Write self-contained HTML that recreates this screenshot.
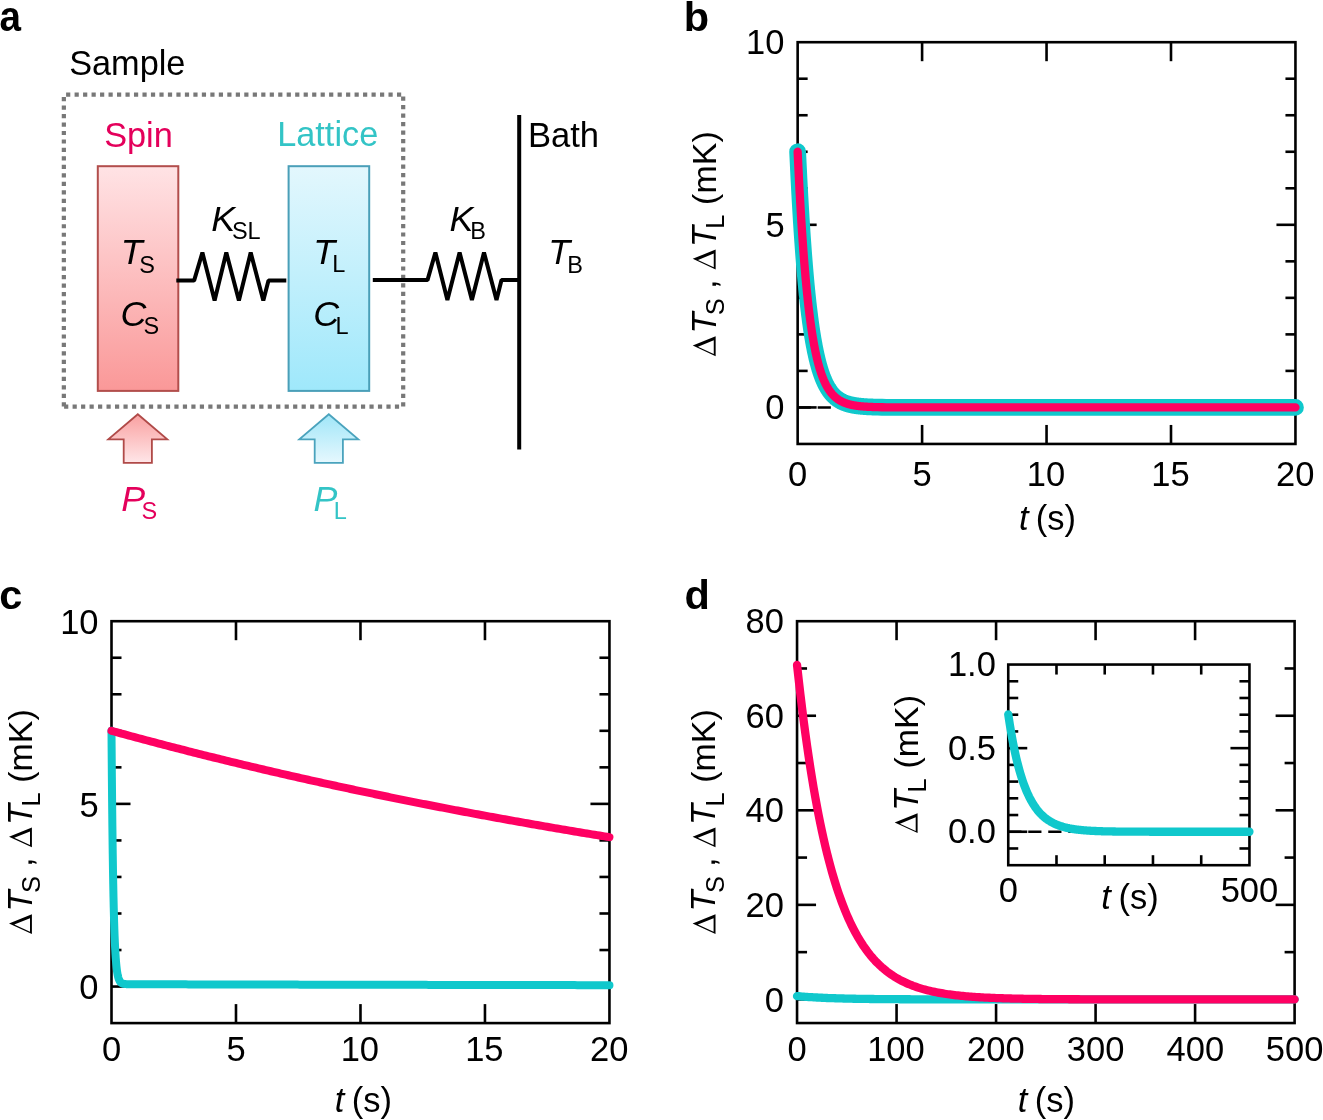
<!DOCTYPE html>
<html><head><meta charset="utf-8"><style>html,body{margin:0;padding:0;background:#fff;}svg{display:block;will-change:transform;}text{font-family:"Liberation Sans",sans-serif;}</style></head>
<body><svg width="1323" height="1120" viewBox="0 0 1323 1120" font-family="Liberation Sans, sans-serif">
<rect width="1323" height="1120" fill="#fff"/>
<text transform="translate(-0.42,30.7) scale(0.93,1.045)" font-size="41.5" font-weight="bold">a</text>
<text x="69.14" y="74.60" font-size="34.3" fill="#000" >Sample</text>
<path fill="#787878" d="M66.10,92.45h4.2v4.2h-4.2zM74.58,92.45h4.2v4.2h-4.2zM83.07,92.45h4.2v4.2h-4.2zM91.55,92.45h4.2v4.2h-4.2zM100.04,92.45h4.2v4.2h-4.2zM108.52,92.45h4.2v4.2h-4.2zM117.00,92.45h4.2v4.2h-4.2zM125.49,92.45h4.2v4.2h-4.2zM133.97,92.45h4.2v4.2h-4.2zM142.46,92.45h4.2v4.2h-4.2zM150.94,92.45h4.2v4.2h-4.2zM159.42,92.45h4.2v4.2h-4.2zM167.91,92.45h4.2v4.2h-4.2zM176.39,92.45h4.2v4.2h-4.2zM184.88,92.45h4.2v4.2h-4.2zM193.36,92.45h4.2v4.2h-4.2zM201.84,92.45h4.2v4.2h-4.2zM210.33,92.45h4.2v4.2h-4.2zM218.81,92.45h4.2v4.2h-4.2zM227.30,92.45h4.2v4.2h-4.2zM235.78,92.45h4.2v4.2h-4.2zM244.26,92.45h4.2v4.2h-4.2zM252.75,92.45h4.2v4.2h-4.2zM261.23,92.45h4.2v4.2h-4.2zM269.72,92.45h4.2v4.2h-4.2zM278.20,92.45h4.2v4.2h-4.2zM286.68,92.45h4.2v4.2h-4.2zM295.17,92.45h4.2v4.2h-4.2zM303.65,92.45h4.2v4.2h-4.2zM312.14,92.45h4.2v4.2h-4.2zM320.62,92.45h4.2v4.2h-4.2zM329.10,92.45h4.2v4.2h-4.2zM337.59,92.45h4.2v4.2h-4.2zM346.07,92.45h4.2v4.2h-4.2zM354.56,92.45h4.2v4.2h-4.2zM363.04,92.45h4.2v4.2h-4.2zM371.52,92.45h4.2v4.2h-4.2zM380.01,92.45h4.2v4.2h-4.2zM388.49,92.45h4.2v4.2h-4.2zM396.98,92.45h4.2v4.2h-4.2zM64.10,404.45h4.2v4.2h-4.2zM72.58,404.45h4.2v4.2h-4.2zM81.06,404.45h4.2v4.2h-4.2zM89.55,404.45h4.2v4.2h-4.2zM98.03,404.45h4.2v4.2h-4.2zM106.51,404.45h4.2v4.2h-4.2zM114.99,404.45h4.2v4.2h-4.2zM123.47,404.45h4.2v4.2h-4.2zM131.96,404.45h4.2v4.2h-4.2zM140.44,404.45h4.2v4.2h-4.2zM148.92,404.45h4.2v4.2h-4.2zM157.40,404.45h4.2v4.2h-4.2zM165.88,404.45h4.2v4.2h-4.2zM174.37,404.45h4.2v4.2h-4.2zM182.85,404.45h4.2v4.2h-4.2zM191.33,404.45h4.2v4.2h-4.2zM199.81,404.45h4.2v4.2h-4.2zM208.29,404.45h4.2v4.2h-4.2zM216.78,404.45h4.2v4.2h-4.2zM225.26,404.45h4.2v4.2h-4.2zM233.74,404.45h4.2v4.2h-4.2zM242.22,404.45h4.2v4.2h-4.2zM250.70,404.45h4.2v4.2h-4.2zM259.19,404.45h4.2v4.2h-4.2zM267.67,404.45h4.2v4.2h-4.2zM276.15,404.45h4.2v4.2h-4.2zM284.63,404.45h4.2v4.2h-4.2zM293.11,404.45h4.2v4.2h-4.2zM301.60,404.45h4.2v4.2h-4.2zM310.08,404.45h4.2v4.2h-4.2zM318.56,404.45h4.2v4.2h-4.2zM327.04,404.45h4.2v4.2h-4.2zM335.52,404.45h4.2v4.2h-4.2zM344.01,404.45h4.2v4.2h-4.2zM352.49,404.45h4.2v4.2h-4.2zM360.97,404.45h4.2v4.2h-4.2zM369.45,404.45h4.2v4.2h-4.2zM377.93,404.45h4.2v4.2h-4.2zM386.42,404.45h4.2v4.2h-4.2zM394.90,404.45h4.2v4.2h-4.2zM61.75,97.00h4.2v4.2h-4.2zM61.75,105.48h4.2v4.2h-4.2zM61.75,113.96h4.2v4.2h-4.2zM61.75,122.43h4.2v4.2h-4.2zM61.75,130.91h4.2v4.2h-4.2zM61.75,139.39h4.2v4.2h-4.2zM61.75,147.87h4.2v4.2h-4.2zM61.75,156.35h4.2v4.2h-4.2zM61.75,164.82h4.2v4.2h-4.2zM61.75,173.30h4.2v4.2h-4.2zM61.75,181.78h4.2v4.2h-4.2zM61.75,190.26h4.2v4.2h-4.2zM61.75,198.74h4.2v4.2h-4.2zM61.75,207.21h4.2v4.2h-4.2zM61.75,215.69h4.2v4.2h-4.2zM61.75,224.17h4.2v4.2h-4.2zM61.75,232.65h4.2v4.2h-4.2zM61.75,241.13h4.2v4.2h-4.2zM61.75,249.60h4.2v4.2h-4.2zM61.75,258.08h4.2v4.2h-4.2zM61.75,266.56h4.2v4.2h-4.2zM61.75,275.04h4.2v4.2h-4.2zM61.75,283.52h4.2v4.2h-4.2zM61.75,291.99h4.2v4.2h-4.2zM61.75,300.47h4.2v4.2h-4.2zM61.75,308.95h4.2v4.2h-4.2zM61.75,317.43h4.2v4.2h-4.2zM61.75,325.91h4.2v4.2h-4.2zM61.75,334.38h4.2v4.2h-4.2zM61.75,342.86h4.2v4.2h-4.2zM61.75,351.34h4.2v4.2h-4.2zM61.75,359.82h4.2v4.2h-4.2zM61.75,368.30h4.2v4.2h-4.2zM61.75,376.77h4.2v4.2h-4.2zM61.75,385.25h4.2v4.2h-4.2zM61.75,393.73h4.2v4.2h-4.2zM61.75,402.21h4.2v4.2h-4.2zM401.10,96.60h4.2v4.2h-4.2zM401.10,105.09h4.2v4.2h-4.2zM401.10,113.58h4.2v4.2h-4.2zM401.10,122.07h4.2v4.2h-4.2zM401.10,130.56h4.2v4.2h-4.2zM401.10,139.05h4.2v4.2h-4.2zM401.10,147.53h4.2v4.2h-4.2zM401.10,156.02h4.2v4.2h-4.2zM401.10,164.51h4.2v4.2h-4.2zM401.10,173.00h4.2v4.2h-4.2zM401.10,181.49h4.2v4.2h-4.2zM401.10,189.98h4.2v4.2h-4.2zM401.10,198.47h4.2v4.2h-4.2zM401.10,206.96h4.2v4.2h-4.2zM401.10,215.45h4.2v4.2h-4.2zM401.10,223.94h4.2v4.2h-4.2zM401.10,232.42h4.2v4.2h-4.2zM401.10,240.91h4.2v4.2h-4.2zM401.10,249.40h4.2v4.2h-4.2zM401.10,257.89h4.2v4.2h-4.2zM401.10,266.38h4.2v4.2h-4.2zM401.10,274.87h4.2v4.2h-4.2zM401.10,283.36h4.2v4.2h-4.2zM401.10,291.85h4.2v4.2h-4.2zM401.10,300.34h4.2v4.2h-4.2zM401.10,308.83h4.2v4.2h-4.2zM401.10,317.31h4.2v4.2h-4.2zM401.10,325.80h4.2v4.2h-4.2zM401.10,334.29h4.2v4.2h-4.2zM401.10,342.78h4.2v4.2h-4.2zM401.10,351.27h4.2v4.2h-4.2zM401.10,359.76h4.2v4.2h-4.2zM401.10,368.25h4.2v4.2h-4.2zM401.10,376.74h4.2v4.2h-4.2zM401.10,385.23h4.2v4.2h-4.2zM401.10,393.72h4.2v4.2h-4.2zM401.10,402.20h4.2v4.2h-4.2z"/>
<defs>
<linearGradient id="gp" x1="0" y1="0" x2="0" y2="1"><stop offset="0" stop-color="#ffe3e5"/><stop offset="1" stop-color="#fa9898"/></linearGradient>
<linearGradient id="gc" x1="0" y1="0" x2="0" y2="1"><stop offset="0" stop-color="#e3f7fd"/><stop offset="1" stop-color="#9fe8fb"/></linearGradient>
<linearGradient id="gpa" x1="0" y1="0" x2="0" y2="1"><stop offset="0" stop-color="#f9a0a0"/><stop offset="1" stop-color="#ffe6e8"/></linearGradient>
<linearGradient id="gca" x1="0" y1="0" x2="0" y2="1"><stop offset="0" stop-color="#a0e6f8"/><stop offset="1" stop-color="#e6f8fe"/></linearGradient>
</defs>
<rect x="97.8" y="166.2" width="80.5" height="224.7" fill="url(#gp)" stroke="#b24e4c" stroke-width="2.0"/>
<rect x="288.6" y="166.2" width="80.6" height="224.7" fill="url(#gc)" stroke="#4a9fb8" stroke-width="2.0"/>
<text x="104.14" y="146.60" font-size="34.3" fill="#e4005b" >Spin</text>
<text x="277.19" y="146.30" font-size="34.3" fill="#33c4c6" >Lattice</text>
<text x="527.96" y="146.80" font-size="34.6" fill="#000" >Bath</text>
<path d="M176.30,280.60 L194.10,280.60 L202.40,252.60 L214.60,300.40 L226.30,252.60 L238.90,300.40 L250.70,252.60 L263.30,300.40 L268.50,280.60 L286.30,280.60" fill="none" stroke="#000" stroke-width="4.0" stroke-linecap="butt" stroke-linejoin="bevel"/>
<path d="M372.80,280.10 L427.50,280.10 L435.40,252.50 L447.40,299.90 L459.60,252.50 L471.90,299.90 L484.00,252.50 L496.50,299.90 L501.50,280.10 L519.00,280.10" fill="none" stroke="#000" stroke-width="4.0" stroke-linecap="butt" stroke-linejoin="bevel"/>
<line x1="519.20" y1="115.00" x2="519.20" y2="449.50" stroke="#000" stroke-width="4.0" />
<text x="120.68" y="264.10" font-size="35.8" font-style="italic" fill="#000" >T</text>
<text x="139.23" y="272.70" font-size="23.5" fill="#000" >S</text>
<text x="120.52" y="326.20" font-size="35.8" font-style="italic" fill="#000" >C</text>
<text x="143.43" y="333.70" font-size="23.5" fill="#000" >S</text>
<text x="313.18" y="264.40" font-size="35.8" font-style="italic" fill="#000" >T</text>
<text x="332.37" y="272.00" font-size="23.5" fill="#000" >L</text>
<text x="313.32" y="326.00" font-size="35.8" font-style="italic" fill="#000" >C</text>
<text x="335.47" y="333.60" font-size="23.5" fill="#000" >L</text>
<text x="211.30" y="230.90" font-size="35.8" font-style="italic" fill="#000" >K</text>
<text x="231.93" y="239.00" font-size="23.5" fill="#000" >SL</text>
<text x="449.40" y="230.70" font-size="35.8" font-style="italic" fill="#000" >K</text>
<text x="470.17" y="238.60" font-size="23.5" fill="#000" >B</text>
<text x="548.28" y="264.00" font-size="35.8" font-style="italic" fill="#000" >T</text>
<text x="567.37" y="272.50" font-size="23.5" fill="#000" >B</text>
<path d="M137.80,414.30 L167.30,439.40 L151.90,439.40 L151.90,462.90 L123.70,462.90 L123.70,439.40 L108.30,439.40 Z" fill="url(#gpa)" stroke="#b04a48" stroke-width="1.8" stroke-linejoin="miter"/>
<path d="M328.80,414.30 L358.30,439.40 L342.90,439.40 L342.90,462.90 L314.70,462.90 L314.70,439.40 L299.30,439.40 Z" fill="url(#gca)" stroke="#4aa3bd" stroke-width="1.8" stroke-linejoin="miter"/>
<text x="121.30" y="511.20" font-size="35.8" font-style="italic" fill="#e4005b" >P</text>
<text x="141.53" y="519.20" font-size="23.5" fill="#e4005b" >S</text>
<text x="313.60" y="511.20" font-size="35.8" font-style="italic" fill="#33c4c6" >P</text>
<text x="333.67" y="519.20" font-size="23.5" fill="#33c4c6" >L</text>
<text x="683.66" y="30.60" font-size="41.5" font-weight="bold" fill="#000" >b</text>
<line x1="922.10" y1="443.95" x2="922.10" y2="424.95" stroke="#000" stroke-width="2.6" />
<line x1="922.10" y1="42.20" x2="922.10" y2="61.20" stroke="#000" stroke-width="2.6" />
<line x1="1046.55" y1="443.95" x2="1046.55" y2="424.95" stroke="#000" stroke-width="2.6" />
<line x1="1046.55" y1="42.20" x2="1046.55" y2="61.20" stroke="#000" stroke-width="2.6" />
<line x1="1171.00" y1="443.95" x2="1171.00" y2="424.95" stroke="#000" stroke-width="2.6" />
<line x1="1171.00" y1="42.20" x2="1171.00" y2="61.20" stroke="#000" stroke-width="2.6" />
<line x1="797.65" y1="407.43" x2="816.65" y2="407.43" stroke="#000" stroke-width="2.6" />
<line x1="1295.45" y1="407.43" x2="1276.45" y2="407.43" stroke="#000" stroke-width="2.6" />
<line x1="797.65" y1="224.81" x2="816.65" y2="224.81" stroke="#000" stroke-width="2.6" />
<line x1="1295.45" y1="224.81" x2="1276.45" y2="224.81" stroke="#000" stroke-width="2.6" />
<line x1="797.65" y1="370.90" x2="807.65" y2="370.90" stroke="#000" stroke-width="2.6" />
<line x1="1295.45" y1="370.90" x2="1285.45" y2="370.90" stroke="#000" stroke-width="2.6" />
<line x1="797.65" y1="334.38" x2="807.65" y2="334.38" stroke="#000" stroke-width="2.6" />
<line x1="1295.45" y1="334.38" x2="1285.45" y2="334.38" stroke="#000" stroke-width="2.6" />
<line x1="797.65" y1="297.86" x2="807.65" y2="297.86" stroke="#000" stroke-width="2.6" />
<line x1="1295.45" y1="297.86" x2="1285.45" y2="297.86" stroke="#000" stroke-width="2.6" />
<line x1="797.65" y1="261.34" x2="807.65" y2="261.34" stroke="#000" stroke-width="2.6" />
<line x1="1295.45" y1="261.34" x2="1285.45" y2="261.34" stroke="#000" stroke-width="2.6" />
<line x1="797.65" y1="188.29" x2="807.65" y2="188.29" stroke="#000" stroke-width="2.6" />
<line x1="1295.45" y1="188.29" x2="1285.45" y2="188.29" stroke="#000" stroke-width="2.6" />
<line x1="797.65" y1="151.77" x2="807.65" y2="151.77" stroke="#000" stroke-width="2.6" />
<line x1="1295.45" y1="151.77" x2="1285.45" y2="151.77" stroke="#000" stroke-width="2.6" />
<line x1="797.65" y1="115.25" x2="807.65" y2="115.25" stroke="#000" stroke-width="2.6" />
<line x1="1295.45" y1="115.25" x2="1285.45" y2="115.25" stroke="#000" stroke-width="2.6" />
<line x1="797.65" y1="78.72" x2="807.65" y2="78.72" stroke="#000" stroke-width="2.6" />
<line x1="1295.45" y1="78.72" x2="1285.45" y2="78.72" stroke="#000" stroke-width="2.6" />
<rect x="797.65" y="42.2" width="497.80" height="401.75" fill="none" stroke="#000" stroke-width="2.6"/>
<line x1="797.65" y1="407.43" x2="1295.45" y2="407.43" stroke="#000" stroke-width="2.6" stroke-dasharray="13.2 6.8"/>
<path d="M797.65,151.77 L797.90,157.15 L798.15,162.42 L798.40,167.58 L798.65,172.63 L798.89,177.57 L799.14,182.41 L799.39,187.15 L799.64,191.78 L799.89,196.32 L800.14,200.77 L800.39,205.12 L800.64,209.38 L800.89,213.55 L801.13,217.63 L801.38,221.62 L801.63,225.53 L801.88,229.36 L802.13,233.11 L802.38,236.78 L802.63,240.37 L802.88,243.89 L803.13,247.33 L803.37,250.70 L803.62,254.00 L803.87,257.23 L804.12,260.39 L804.37,263.49 L804.62,266.52 L804.87,269.49 L805.12,272.39 L805.37,275.23 L805.61,278.02 L805.86,280.74 L806.11,283.41 L806.36,286.02 L806.61,288.57 L806.86,291.08 L807.11,293.53 L807.36,295.92 L807.61,298.27 L807.85,300.57 L808.10,302.82 L808.35,305.02 L808.60,307.18 L808.85,309.29 L809.10,311.35 L809.35,313.38 L809.60,315.36 L809.85,317.29 L810.10,319.19 L810.34,321.05 L810.59,322.87 L810.84,324.65 L811.09,326.39 L811.34,328.10 L811.59,329.77 L811.84,331.40 L812.09,333.00 L812.34,334.57 L812.58,336.10 L812.83,337.60 L813.08,339.07 L813.33,340.51 L813.58,341.92 L813.83,343.30 L814.08,344.65 L814.33,345.97 L814.58,347.27 L814.82,348.53 L815.07,349.77 L815.32,350.99 L815.57,352.17 L815.82,353.34 L816.07,354.48 L816.32,355.59 L816.57,356.68 L816.82,357.75 L817.06,358.80 L817.31,359.82 L817.56,360.82 L817.81,361.80 L818.06,362.76 L818.31,363.70 L818.56,364.62 L818.81,365.53 L819.06,366.41 L819.30,367.27 L819.55,368.12 L819.80,368.94 L820.05,369.75 L820.30,370.55 L820.55,371.32 L820.80,372.08 L821.05,372.83 L821.30,373.56 L821.54,374.27 L821.79,374.97 L822.04,375.65 L822.29,376.32 L822.54,376.97 L822.79,377.62 L823.04,378.24 L823.29,378.86 L823.54,379.46 L823.78,380.05 L824.03,380.62 L824.28,381.19 L824.53,381.74 L824.78,382.28 L825.03,382.81 L825.28,383.33 L825.53,383.84 L825.78,384.33 L826.02,384.82 L826.27,385.30 L826.52,385.76 L826.77,386.22 L827.02,386.66 L827.27,387.10 L827.52,387.53 L827.77,387.95 L828.02,388.36 L828.26,388.76 L828.51,389.15 L828.76,389.54 L829.01,389.91 L829.26,390.28 L829.51,390.64 L829.76,391.00 L830.01,391.34 L830.26,391.68 L830.50,392.01 L830.75,392.34 L831.00,392.65 L831.25,392.97 L831.50,393.27 L831.75,393.57 L832.00,393.86 L832.25,394.15 L832.50,394.43 L832.74,394.70 L832.99,394.97 L833.24,395.23 L833.49,395.49 L833.74,395.74 L833.99,395.98 L834.24,396.22 L834.49,396.46 L834.74,396.69 L834.99,396.92 L835.23,397.14 L835.48,397.35 L835.73,397.57 L835.98,397.77 L836.23,397.98 L836.48,398.18 L836.73,398.37 L836.98,398.56 L837.23,398.75 L837.47,398.93 L837.72,399.11 L837.97,399.29 L838.22,399.46 L838.47,399.62 L838.72,399.79 L838.97,399.95 L839.22,400.11 L839.47,400.26 L839.71,400.41 L839.96,400.56 L840.21,400.70 L840.46,400.85 L840.71,400.98 L840.96,401.12 L841.21,401.25 L841.46,401.38 L841.71,401.51 L841.95,401.63 L842.20,401.76 L842.45,401.88 L842.70,401.99 L842.95,402.11 L843.20,402.22 L843.45,402.33 L843.70,402.44 L843.95,402.54 L844.19,402.64 L844.44,402.74 L844.69,402.84 L844.94,402.94 L845.19,403.03 L845.44,403.13 L845.69,403.22 L845.94,403.31 L846.19,403.39 L846.43,403.48 L846.68,403.56 L846.93,403.64 L847.18,403.72 L847.43,403.80 L847.68,403.88 L847.93,403.95 L848.18,404.02 L848.43,404.10 L848.67,404.17 L848.92,404.23 L849.17,404.30 L849.42,404.37 L849.67,404.43 L849.92,404.50 L850.17,404.56 L850.42,404.62 L850.67,404.68 L850.91,404.73 L851.16,404.79 L851.41,404.85 L851.66,404.90 L851.91,404.95 L852.16,405.01 L852.41,405.06 L852.66,405.11 L852.91,405.16 L853.15,405.20 L853.40,405.25 L853.65,405.30 L853.90,405.34 L854.15,405.39 L854.40,405.43 L854.65,405.47 L854.90,405.51 L855.15,405.55 L855.39,405.59 L855.64,405.63 L855.89,405.67 L856.14,405.70 L856.39,405.74 L856.64,405.78 L856.89,405.81 L857.14,405.85 L857.39,405.88 L857.63,405.91 L857.88,405.94 L858.13,405.97 L858.38,406.00 L858.63,406.03 L858.88,406.06 L859.13,406.09 L859.38,406.12 L859.63,406.15 L859.88,406.18 L860.12,406.20 L860.37,406.23 L860.62,406.25 L860.87,406.28 L861.12,406.30 L861.37,406.33 L861.62,406.35 L861.87,406.37 L862.12,406.39 L862.36,406.42 L862.61,406.44 L862.86,406.46 L863.11,406.48 L863.36,406.50 L863.61,406.52 L863.86,406.54 L864.11,406.56 L864.36,406.57 L864.60,406.59 L864.85,406.61 L865.10,406.63 L865.35,406.64 L865.60,406.66 L865.85,406.68 L866.10,406.69 L866.35,406.71 L866.60,406.72 L866.84,406.74 L867.09,406.75 L867.34,406.77 L867.59,406.78 L867.84,406.79 L868.09,406.81 L868.34,406.82 L868.59,406.83 L868.84,406.85 L869.08,406.86 L869.33,406.87 L869.58,406.88 L869.83,406.89 L870.08,406.90 L870.33,406.92 L870.58,406.93 L870.83,406.94 L871.08,406.95 L871.32,406.96 L871.57,406.97 L871.82,406.98 L872.07,406.99 L872.32,407.00 L873.56,407.04 L877.78,407.16 L882.00,407.24 L886.22,407.30 L890.44,407.34 L894.66,407.36 L898.88,407.38 L903.10,407.40 L907.32,407.41 L911.53,407.41 L915.75,407.42 L919.97,407.42 L924.19,407.42 L928.41,407.42 L932.63,407.42 L936.85,407.43 L941.07,407.43 L945.29,407.43 L949.50,407.43 L953.72,407.43 L957.94,407.43 L962.16,407.43 L966.38,407.43 L970.60,407.43 L974.82,407.43 L979.04,407.43 L983.25,407.43 L987.47,407.43 L991.69,407.43 L995.91,407.43 L1000.13,407.43 L1004.35,407.43 L1008.57,407.43 L1012.79,407.43 L1017.01,407.43 L1021.22,407.43 L1025.44,407.43 L1029.66,407.43 L1033.88,407.43 L1038.10,407.43 L1042.32,407.43 L1046.54,407.43 L1050.76,407.43 L1054.98,407.43 L1059.19,407.43 L1063.41,407.43 L1067.63,407.43 L1071.85,407.43 L1076.07,407.43 L1080.29,407.43 L1084.51,407.43 L1088.73,407.43 L1092.94,407.43 L1097.16,407.43 L1101.38,407.43 L1105.60,407.43 L1109.82,407.43 L1114.04,407.43 L1118.26,407.43 L1122.48,407.43 L1126.70,407.43 L1130.91,407.43 L1135.13,407.43 L1139.35,407.43 L1143.57,407.43 L1147.79,407.43 L1152.01,407.43 L1156.23,407.43 L1160.45,407.43 L1164.67,407.43 L1168.88,407.43 L1173.10,407.43 L1177.32,407.43 L1181.54,407.43 L1185.76,407.43 L1189.98,407.43 L1194.20,407.43 L1198.42,407.43 L1202.64,407.43 L1206.85,407.43 L1211.07,407.43 L1215.29,407.43 L1219.51,407.43 L1223.73,407.43 L1227.95,407.43 L1232.17,407.43 L1236.39,407.43 L1240.60,407.43 L1244.82,407.43 L1249.04,407.43 L1253.26,407.43 L1257.48,407.43 L1261.70,407.43 L1265.92,407.43 L1270.14,407.43 L1274.36,407.43 L1278.57,407.43 L1282.79,407.43 L1287.01,407.43 L1291.23,407.43 L1295.45,407.43" fill="none" stroke="#10c8cc" stroke-width="16.8" stroke-linecap="round" stroke-linejoin="round"/>
<path d="M797.65,151.77 L797.90,157.15 L798.15,162.42 L798.40,167.58 L798.65,172.63 L798.89,177.57 L799.14,182.41 L799.39,187.15 L799.64,191.78 L799.89,196.32 L800.14,200.77 L800.39,205.12 L800.64,209.38 L800.89,213.55 L801.13,217.63 L801.38,221.62 L801.63,225.53 L801.88,229.36 L802.13,233.11 L802.38,236.78 L802.63,240.37 L802.88,243.89 L803.13,247.33 L803.37,250.70 L803.62,254.00 L803.87,257.23 L804.12,260.39 L804.37,263.49 L804.62,266.52 L804.87,269.49 L805.12,272.39 L805.37,275.23 L805.61,278.02 L805.86,280.74 L806.11,283.41 L806.36,286.02 L806.61,288.57 L806.86,291.08 L807.11,293.53 L807.36,295.92 L807.61,298.27 L807.85,300.57 L808.10,302.82 L808.35,305.02 L808.60,307.18 L808.85,309.29 L809.10,311.35 L809.35,313.38 L809.60,315.36 L809.85,317.29 L810.10,319.19 L810.34,321.05 L810.59,322.87 L810.84,324.65 L811.09,326.39 L811.34,328.10 L811.59,329.77 L811.84,331.40 L812.09,333.00 L812.34,334.57 L812.58,336.10 L812.83,337.60 L813.08,339.07 L813.33,340.51 L813.58,341.92 L813.83,343.30 L814.08,344.65 L814.33,345.97 L814.58,347.27 L814.82,348.53 L815.07,349.77 L815.32,350.99 L815.57,352.17 L815.82,353.34 L816.07,354.48 L816.32,355.59 L816.57,356.68 L816.82,357.75 L817.06,358.80 L817.31,359.82 L817.56,360.82 L817.81,361.80 L818.06,362.76 L818.31,363.70 L818.56,364.62 L818.81,365.53 L819.06,366.41 L819.30,367.27 L819.55,368.12 L819.80,368.94 L820.05,369.75 L820.30,370.55 L820.55,371.32 L820.80,372.08 L821.05,372.83 L821.30,373.56 L821.54,374.27 L821.79,374.97 L822.04,375.65 L822.29,376.32 L822.54,376.97 L822.79,377.62 L823.04,378.24 L823.29,378.86 L823.54,379.46 L823.78,380.05 L824.03,380.62 L824.28,381.19 L824.53,381.74 L824.78,382.28 L825.03,382.81 L825.28,383.33 L825.53,383.84 L825.78,384.33 L826.02,384.82 L826.27,385.30 L826.52,385.76 L826.77,386.22 L827.02,386.66 L827.27,387.10 L827.52,387.53 L827.77,387.95 L828.02,388.36 L828.26,388.76 L828.51,389.15 L828.76,389.54 L829.01,389.91 L829.26,390.28 L829.51,390.64 L829.76,391.00 L830.01,391.34 L830.26,391.68 L830.50,392.01 L830.75,392.34 L831.00,392.65 L831.25,392.97 L831.50,393.27 L831.75,393.57 L832.00,393.86 L832.25,394.15 L832.50,394.43 L832.74,394.70 L832.99,394.97 L833.24,395.23 L833.49,395.49 L833.74,395.74 L833.99,395.98 L834.24,396.22 L834.49,396.46 L834.74,396.69 L834.99,396.92 L835.23,397.14 L835.48,397.35 L835.73,397.57 L835.98,397.77 L836.23,397.98 L836.48,398.18 L836.73,398.37 L836.98,398.56 L837.23,398.75 L837.47,398.93 L837.72,399.11 L837.97,399.29 L838.22,399.46 L838.47,399.62 L838.72,399.79 L838.97,399.95 L839.22,400.11 L839.47,400.26 L839.71,400.41 L839.96,400.56 L840.21,400.70 L840.46,400.85 L840.71,400.98 L840.96,401.12 L841.21,401.25 L841.46,401.38 L841.71,401.51 L841.95,401.63 L842.20,401.76 L842.45,401.88 L842.70,401.99 L842.95,402.11 L843.20,402.22 L843.45,402.33 L843.70,402.44 L843.95,402.54 L844.19,402.64 L844.44,402.74 L844.69,402.84 L844.94,402.94 L845.19,403.03 L845.44,403.13 L845.69,403.22 L845.94,403.31 L846.19,403.39 L846.43,403.48 L846.68,403.56 L846.93,403.64 L847.18,403.72 L847.43,403.80 L847.68,403.88 L847.93,403.95 L848.18,404.02 L848.43,404.10 L848.67,404.17 L848.92,404.23 L849.17,404.30 L849.42,404.37 L849.67,404.43 L849.92,404.50 L850.17,404.56 L850.42,404.62 L850.67,404.68 L850.91,404.73 L851.16,404.79 L851.41,404.85 L851.66,404.90 L851.91,404.95 L852.16,405.01 L852.41,405.06 L852.66,405.11 L852.91,405.16 L853.15,405.20 L853.40,405.25 L853.65,405.30 L853.90,405.34 L854.15,405.39 L854.40,405.43 L854.65,405.47 L854.90,405.51 L855.15,405.55 L855.39,405.59 L855.64,405.63 L855.89,405.67 L856.14,405.70 L856.39,405.74 L856.64,405.78 L856.89,405.81 L857.14,405.85 L857.39,405.88 L857.63,405.91 L857.88,405.94 L858.13,405.97 L858.38,406.00 L858.63,406.03 L858.88,406.06 L859.13,406.09 L859.38,406.12 L859.63,406.15 L859.88,406.18 L860.12,406.20 L860.37,406.23 L860.62,406.25 L860.87,406.28 L861.12,406.30 L861.37,406.33 L861.62,406.35 L861.87,406.37 L862.12,406.39 L862.36,406.42 L862.61,406.44 L862.86,406.46 L863.11,406.48 L863.36,406.50 L863.61,406.52 L863.86,406.54 L864.11,406.56 L864.36,406.57 L864.60,406.59 L864.85,406.61 L865.10,406.63 L865.35,406.64 L865.60,406.66 L865.85,406.68 L866.10,406.69 L866.35,406.71 L866.60,406.72 L866.84,406.74 L867.09,406.75 L867.34,406.77 L867.59,406.78 L867.84,406.79 L868.09,406.81 L868.34,406.82 L868.59,406.83 L868.84,406.85 L869.08,406.86 L869.33,406.87 L869.58,406.88 L869.83,406.89 L870.08,406.90 L870.33,406.92 L870.58,406.93 L870.83,406.94 L871.08,406.95 L871.32,406.96 L871.57,406.97 L871.82,406.98 L872.07,406.99 L872.32,407.00 L873.56,407.04 L877.78,407.16 L882.00,407.24 L886.22,407.30 L890.44,407.34 L894.66,407.36 L898.88,407.38 L903.10,407.40 L907.32,407.41 L911.53,407.41 L915.75,407.42 L919.97,407.42 L924.19,407.42 L928.41,407.42 L932.63,407.42 L936.85,407.43 L941.07,407.43 L945.29,407.43 L949.50,407.43 L953.72,407.43 L957.94,407.43 L962.16,407.43 L966.38,407.43 L970.60,407.43 L974.82,407.43 L979.04,407.43 L983.25,407.43 L987.47,407.43 L991.69,407.43 L995.91,407.43 L1000.13,407.43 L1004.35,407.43 L1008.57,407.43 L1012.79,407.43 L1017.01,407.43 L1021.22,407.43 L1025.44,407.43 L1029.66,407.43 L1033.88,407.43 L1038.10,407.43 L1042.32,407.43 L1046.54,407.43 L1050.76,407.43 L1054.98,407.43 L1059.19,407.43 L1063.41,407.43 L1067.63,407.43 L1071.85,407.43 L1076.07,407.43 L1080.29,407.43 L1084.51,407.43 L1088.73,407.43 L1092.94,407.43 L1097.16,407.43 L1101.38,407.43 L1105.60,407.43 L1109.82,407.43 L1114.04,407.43 L1118.26,407.43 L1122.48,407.43 L1126.70,407.43 L1130.91,407.43 L1135.13,407.43 L1139.35,407.43 L1143.57,407.43 L1147.79,407.43 L1152.01,407.43 L1156.23,407.43 L1160.45,407.43 L1164.67,407.43 L1168.88,407.43 L1173.10,407.43 L1177.32,407.43 L1181.54,407.43 L1185.76,407.43 L1189.98,407.43 L1194.20,407.43 L1198.42,407.43 L1202.64,407.43 L1206.85,407.43 L1211.07,407.43 L1215.29,407.43 L1219.51,407.43 L1223.73,407.43 L1227.95,407.43 L1232.17,407.43 L1236.39,407.43 L1240.60,407.43 L1244.82,407.43 L1249.04,407.43 L1253.26,407.43 L1257.48,407.43 L1261.70,407.43 L1265.92,407.43 L1270.14,407.43 L1274.36,407.43 L1278.57,407.43 L1282.79,407.43 L1287.01,407.43 L1291.23,407.43 L1295.45,407.43" fill="none" stroke="#ff0062" stroke-width="8.3" stroke-linecap="round" stroke-linejoin="round"/>
<text x="-0.72" y="609.20" font-size="41.5" font-weight="bold" fill="#000" >c</text>
<line x1="235.99" y1="1023.10" x2="235.99" y2="1004.10" stroke="#000" stroke-width="2.6" />
<line x1="235.99" y1="621.20" x2="235.99" y2="640.20" stroke="#000" stroke-width="2.6" />
<line x1="360.48" y1="1023.10" x2="360.48" y2="1004.10" stroke="#000" stroke-width="2.6" />
<line x1="360.48" y1="621.20" x2="360.48" y2="640.20" stroke="#000" stroke-width="2.6" />
<line x1="484.96" y1="1023.10" x2="484.96" y2="1004.10" stroke="#000" stroke-width="2.6" />
<line x1="484.96" y1="621.20" x2="484.96" y2="640.20" stroke="#000" stroke-width="2.6" />
<line x1="111.50" y1="986.56" x2="130.50" y2="986.56" stroke="#000" stroke-width="2.6" />
<line x1="609.45" y1="986.56" x2="590.45" y2="986.56" stroke="#000" stroke-width="2.6" />
<line x1="111.50" y1="803.88" x2="130.50" y2="803.88" stroke="#000" stroke-width="2.6" />
<line x1="609.45" y1="803.88" x2="590.45" y2="803.88" stroke="#000" stroke-width="2.6" />
<line x1="111.50" y1="950.03" x2="121.50" y2="950.03" stroke="#000" stroke-width="2.6" />
<line x1="609.45" y1="950.03" x2="599.45" y2="950.03" stroke="#000" stroke-width="2.6" />
<line x1="111.50" y1="913.49" x2="121.50" y2="913.49" stroke="#000" stroke-width="2.6" />
<line x1="609.45" y1="913.49" x2="599.45" y2="913.49" stroke="#000" stroke-width="2.6" />
<line x1="111.50" y1="876.95" x2="121.50" y2="876.95" stroke="#000" stroke-width="2.6" />
<line x1="609.45" y1="876.95" x2="599.45" y2="876.95" stroke="#000" stroke-width="2.6" />
<line x1="111.50" y1="840.42" x2="121.50" y2="840.42" stroke="#000" stroke-width="2.6" />
<line x1="609.45" y1="840.42" x2="599.45" y2="840.42" stroke="#000" stroke-width="2.6" />
<line x1="111.50" y1="767.35" x2="121.50" y2="767.35" stroke="#000" stroke-width="2.6" />
<line x1="609.45" y1="767.35" x2="599.45" y2="767.35" stroke="#000" stroke-width="2.6" />
<line x1="111.50" y1="730.81" x2="121.50" y2="730.81" stroke="#000" stroke-width="2.6" />
<line x1="609.45" y1="730.81" x2="599.45" y2="730.81" stroke="#000" stroke-width="2.6" />
<line x1="111.50" y1="694.27" x2="121.50" y2="694.27" stroke="#000" stroke-width="2.6" />
<line x1="609.45" y1="694.27" x2="599.45" y2="694.27" stroke="#000" stroke-width="2.6" />
<line x1="111.50" y1="657.74" x2="121.50" y2="657.74" stroke="#000" stroke-width="2.6" />
<line x1="609.45" y1="657.74" x2="599.45" y2="657.74" stroke="#000" stroke-width="2.6" />
<rect x="111.5" y="621.2" width="497.95" height="401.90" fill="none" stroke="#000" stroke-width="2.6"/>
<path d="M111.50,730.81 L111.62,747.15 L111.75,762.44 L111.87,776.74 L112.00,790.12 L112.12,802.64 L112.25,814.35 L112.37,825.30 L112.50,835.55 L112.62,845.13 L112.74,854.10 L112.87,862.49 L112.99,870.34 L113.12,877.68 L113.24,884.55 L113.37,890.98 L113.49,896.99 L113.62,902.62 L113.74,907.88 L113.87,912.80 L113.99,917.40 L114.11,921.71 L114.24,925.74 L114.36,929.51 L114.49,933.04 L114.61,936.34 L114.74,939.43 L114.86,942.31 L114.99,945.02 L115.11,947.54 L115.23,949.91 L115.36,952.12 L115.48,954.19 L115.61,956.12 L115.73,957.93 L115.86,959.63 L115.98,961.21 L116.11,962.70 L116.23,964.08 L116.36,965.38 L116.48,966.60 L116.60,967.73 L116.73,968.79 L116.85,969.79 L116.98,970.72 L117.10,971.59 L117.23,972.40 L117.35,973.16 L117.48,973.88 L117.60,974.54 L117.72,975.17 L117.85,975.75 L117.97,976.29 L118.10,976.81 L118.22,977.28 L118.35,977.73 L118.47,978.15 L118.60,978.54 L118.72,978.90 L118.84,979.25 L118.97,979.57 L119.09,979.87 L119.22,980.15 L119.34,980.41 L119.47,980.65 L119.59,980.88 L119.72,981.10 L119.84,981.30 L119.97,981.49 L120.09,981.66 L120.21,981.83 L120.34,981.98 L120.46,982.13 L120.59,982.26 L120.71,982.39 L120.84,982.51 L120.96,982.62 L121.09,982.72 L121.21,982.82 L121.33,982.91 L121.46,982.99 L121.58,983.07 L121.71,983.14 L121.83,983.21 L121.96,983.28 L122.08,983.34 L122.21,983.40 L122.33,983.45 L122.45,983.50 L122.58,983.55 L122.70,983.59 L122.83,983.63 L122.95,983.67 L123.08,983.70 L123.20,983.74 L123.33,983.77 L123.45,983.80 L123.58,983.83 L123.70,983.85 L123.82,983.88 L123.95,983.90 L124.07,983.92 L124.20,983.94 L124.32,983.96 L124.45,983.97 L124.57,983.99 L124.70,984.01 L124.82,984.02 L124.94,984.03 L125.07,984.05 L125.19,984.06 L125.32,984.07 L125.44,984.08 L125.57,984.09 L125.69,984.10 L125.82,984.11 L125.94,984.11 L126.07,984.12 L126.19,984.13 L126.31,984.14 L126.44,984.14 L126.56,984.15 L126.69,984.15 L126.81,984.16 L126.94,984.16 L127.06,984.17 L127.19,984.17 L127.31,984.18 L127.43,984.18 L127.56,984.18 L127.68,984.19 L127.81,984.19 L127.93,984.19 L128.06,984.20 L128.18,984.20 L128.31,984.20 L128.43,984.20 L128.55,984.20 L128.68,984.21 L128.80,984.21 L128.93,984.21 L129.05,984.21 L129.18,984.21 L129.30,984.22 L129.43,984.22 L129.55,984.22 L129.68,984.22 L129.80,984.22 L129.92,984.22 L130.05,984.22 L130.17,984.22 L130.30,984.23 L130.42,984.23 L130.55,984.23 L130.67,984.23 L130.80,984.23 L130.92,984.23 L131.04,984.23 L131.17,984.23 L131.29,984.23 L131.42,984.23 L131.54,984.23 L131.67,984.23 L131.79,984.24 L131.92,984.24 L132.04,984.24 L132.16,984.24 L132.29,984.24 L132.41,984.24 L132.54,984.24 L132.66,984.24 L132.79,984.24 L132.91,984.24 L133.04,984.24 L133.16,984.24 L133.29,984.24 L133.41,984.24 L133.53,984.24 L133.66,984.24 L133.78,984.24 L133.91,984.24 L134.03,984.24 L134.16,984.24 L134.28,984.25 L134.41,984.25 L134.53,984.25 L134.65,984.25 L134.78,984.25 L134.90,984.25 L135.03,984.25 L135.15,984.25 L135.28,984.25 L135.40,984.25 L135.53,984.25 L135.65,984.25 L135.78,984.25 L135.90,984.25 L136.02,984.25 L136.15,984.25 L136.27,984.25 L136.40,984.25 L138.89,984.26 L141.36,984.26 L143.84,984.27 L146.32,984.28 L148.79,984.28 L151.27,984.29 L153.75,984.29 L156.22,984.30 L158.70,984.31 L161.18,984.31 L163.65,984.32 L166.13,984.32 L168.61,984.33 L171.08,984.34 L173.56,984.34 L176.04,984.35 L178.51,984.35 L180.99,984.36 L183.47,984.37 L185.94,984.37 L188.42,984.38 L190.90,984.38 L193.37,984.39 L195.85,984.40 L198.33,984.40 L200.80,984.41 L203.28,984.41 L205.76,984.42 L208.23,984.42 L210.71,984.43 L213.19,984.44 L215.66,984.44 L218.14,984.45 L220.62,984.45 L223.09,984.46 L225.57,984.46 L228.05,984.47 L230.52,984.48 L233.00,984.48 L235.48,984.49 L237.95,984.49 L240.43,984.50 L242.91,984.50 L245.38,984.51 L247.86,984.51 L250.34,984.52 L252.81,984.52 L255.29,984.53 L257.77,984.54 L260.24,984.54 L262.72,984.55 L265.20,984.55 L267.67,984.56 L270.15,984.56 L272.63,984.57 L275.10,984.57 L277.58,984.58 L280.06,984.58 L282.53,984.59 L285.01,984.59 L287.49,984.60 L289.96,984.60 L292.44,984.61 L294.92,984.62 L297.39,984.62 L299.87,984.63 L302.35,984.63 L304.82,984.64 L307.30,984.64 L309.78,984.65 L312.25,984.65 L314.73,984.66 L317.21,984.66 L319.68,984.67 L322.16,984.67 L324.64,984.68 L327.11,984.68 L329.59,984.69 L332.07,984.69 L334.54,984.70 L337.02,984.70 L339.50,984.71 L341.97,984.71 L344.45,984.72 L346.93,984.72 L349.40,984.73 L351.88,984.73 L354.36,984.74 L356.83,984.74 L359.31,984.75 L361.79,984.75 L364.26,984.76 L366.74,984.76 L369.22,984.77 L371.69,984.77 L374.17,984.78 L376.65,984.78 L379.12,984.78 L381.60,984.79 L384.08,984.79 L386.55,984.80 L389.03,984.80 L391.51,984.81 L393.98,984.81 L396.46,984.82 L398.94,984.82 L401.41,984.83 L403.89,984.83 L406.37,984.84 L408.84,984.84 L411.32,984.85 L413.79,984.85 L416.27,984.85 L418.75,984.86 L421.22,984.86 L423.70,984.87 L426.18,984.87 L428.65,984.88 L431.13,984.88 L433.61,984.89 L436.08,984.89 L438.56,984.90 L441.04,984.90 L443.51,984.90 L445.99,984.91 L448.47,984.91 L450.94,984.92 L453.42,984.92 L455.90,984.93 L458.37,984.93 L460.85,984.93 L463.33,984.94 L465.80,984.94 L468.28,984.95 L470.76,984.95 L473.23,984.96 L475.71,984.96 L478.19,984.97 L480.66,984.97 L483.14,984.97 L485.62,984.98 L488.09,984.98 L490.57,984.99 L493.05,984.99 L495.52,984.99 L498.00,985.00 L500.48,985.00 L502.95,985.01 L505.43,985.01 L507.91,985.02 L510.38,985.02 L512.86,985.02 L515.34,985.03 L517.81,985.03 L520.29,985.04 L522.77,985.04 L525.24,985.04 L527.72,985.05 L530.20,985.05 L532.67,985.06 L535.15,985.06 L537.63,985.06 L540.10,985.07 L542.58,985.07 L545.06,985.08 L547.53,985.08 L550.01,985.08 L552.49,985.09 L554.96,985.09 L557.44,985.10 L559.92,985.10 L562.39,985.10 L564.87,985.11 L567.35,985.11 L569.82,985.12 L572.30,985.12 L574.78,985.12 L577.25,985.13 L579.73,985.13 L582.21,985.14 L584.68,985.14 L587.16,985.14 L589.64,985.15 L592.11,985.15 L594.59,985.15 L597.07,985.16 L599.54,985.16 L602.02,985.17 L604.50,985.17 L606.97,985.17 L609.45,985.18" fill="none" stroke="#10c8cc" stroke-width="8" stroke-linecap="round" stroke-linejoin="round"/>
<path d="M111.50,730.81 L113.99,731.50 L116.48,732.18 L118.97,732.86 L121.46,733.54 L123.95,734.22 L126.44,734.90 L128.93,735.58 L131.42,736.25 L133.91,736.92 L136.40,737.59 L138.89,738.26 L141.38,738.93 L143.87,739.59 L146.36,740.26 L148.85,740.92 L151.34,741.58 L153.83,742.23 L156.32,742.89 L158.81,743.54 L161.30,744.20 L163.78,744.85 L166.27,745.50 L168.76,746.14 L171.25,746.79 L173.74,747.43 L176.23,748.07 L178.72,748.71 L181.21,749.35 L183.70,749.99 L186.19,750.62 L188.68,751.26 L191.17,751.89 L193.66,752.52 L196.15,753.15 L198.64,753.77 L201.13,754.40 L203.62,755.02 L206.11,755.64 L208.60,756.26 L211.09,756.88 L213.58,757.50 L216.07,758.11 L218.56,758.73 L221.05,759.34 L223.54,759.95 L226.03,760.56 L228.52,761.16 L231.01,761.77 L233.50,762.37 L235.99,762.97 L238.48,763.57 L240.97,764.17 L243.46,764.77 L245.95,765.37 L248.44,765.96 L250.93,766.55 L253.42,767.14 L255.91,767.73 L258.40,768.32 L260.88,768.91 L263.37,769.49 L265.86,770.07 L268.35,770.65 L270.84,771.23 L273.33,771.81 L275.82,772.39 L278.31,772.96 L280.80,773.54 L283.29,774.11 L285.78,774.68 L288.27,775.25 L290.76,775.81 L293.25,776.38 L295.74,776.94 L298.23,777.51 L300.72,778.07 L303.21,778.63 L305.70,779.19 L308.19,779.74 L310.68,780.30 L313.17,780.85 L315.66,781.40 L318.15,781.95 L320.64,782.50 L323.13,783.05 L325.62,783.60 L328.11,784.14 L330.60,784.69 L333.09,785.23 L335.58,785.77 L338.07,786.31 L340.56,786.85 L343.05,787.38 L345.54,787.92 L348.03,788.45 L350.52,788.98 L353.01,789.51 L355.50,790.04 L357.99,790.57 L360.48,791.09 L362.96,791.62 L365.45,792.14 L367.94,792.66 L370.43,793.19 L372.92,793.70 L375.41,794.22 L377.90,794.74 L380.39,795.25 L382.88,795.77 L385.37,796.28 L387.86,796.79 L390.35,797.30 L392.84,797.81 L395.33,798.31 L397.82,798.82 L400.31,799.32 L402.80,799.83 L405.29,800.33 L407.78,800.83 L410.27,801.33 L412.76,801.82 L415.25,802.32 L417.74,802.81 L420.23,803.31 L422.72,803.80 L425.21,804.29 L427.70,804.78 L430.19,805.27 L432.68,805.75 L435.17,806.24 L437.66,806.72 L440.15,807.21 L442.64,807.69 L445.13,808.17 L447.62,808.65 L450.11,809.12 L452.60,809.60 L455.09,810.08 L457.58,810.55 L460.06,811.02 L462.55,811.49 L465.04,811.96 L467.53,812.43 L470.02,812.90 L472.51,813.37 L475.00,813.83 L477.49,814.29 L479.98,814.76 L482.47,815.22 L484.96,815.68 L487.45,816.14 L489.94,816.59 L492.43,817.05 L494.92,817.51 L497.41,817.96 L499.90,818.41 L502.39,818.86 L504.88,819.31 L507.37,819.76 L509.86,820.21 L512.35,820.66 L514.84,821.10 L517.33,821.55 L519.82,821.99 L522.31,822.43 L524.80,822.87 L527.29,823.31 L529.78,823.75 L532.27,824.19 L534.76,824.62 L537.25,825.06 L539.74,825.49 L542.23,825.92 L544.72,826.36 L547.21,826.79 L549.70,827.21 L552.19,827.64 L554.68,828.07 L557.17,828.49 L559.65,828.92 L562.14,829.34 L564.63,829.76 L567.12,830.18 L569.61,830.60 L572.10,831.02 L574.59,831.44 L577.08,831.86 L579.57,832.27 L582.06,832.69 L584.55,833.10 L587.04,833.51 L589.53,833.92 L592.02,834.33 L594.51,834.74 L597.00,835.15 L599.49,835.56 L601.98,835.96 L604.47,836.36 L606.96,836.77 L609.45,837.17" fill="none" stroke="#ff0062" stroke-width="8" stroke-linecap="round" stroke-linejoin="round"/>
<text x="684.55" y="609.20" font-size="41.5" font-weight="bold" fill="#000" >d</text>
<line x1="896.56" y1="1023.05" x2="896.56" y2="1004.05" stroke="#000" stroke-width="2.6" />
<line x1="896.56" y1="621.20" x2="896.56" y2="640.20" stroke="#000" stroke-width="2.6" />
<line x1="996.07" y1="1023.05" x2="996.07" y2="1004.05" stroke="#000" stroke-width="2.6" />
<line x1="996.07" y1="621.20" x2="996.07" y2="640.20" stroke="#000" stroke-width="2.6" />
<line x1="1095.58" y1="1023.05" x2="1095.58" y2="1004.05" stroke="#000" stroke-width="2.6" />
<line x1="1095.58" y1="621.20" x2="1095.58" y2="640.20" stroke="#000" stroke-width="2.6" />
<line x1="1195.09" y1="1023.05" x2="1195.09" y2="1004.05" stroke="#000" stroke-width="2.6" />
<line x1="1195.09" y1="621.20" x2="1195.09" y2="640.20" stroke="#000" stroke-width="2.6" />
<line x1="797.05" y1="999.41" x2="816.05" y2="999.41" stroke="#000" stroke-width="2.6" />
<line x1="1294.60" y1="999.41" x2="1275.60" y2="999.41" stroke="#000" stroke-width="2.6" />
<line x1="797.05" y1="904.86" x2="816.05" y2="904.86" stroke="#000" stroke-width="2.6" />
<line x1="1294.60" y1="904.86" x2="1275.60" y2="904.86" stroke="#000" stroke-width="2.6" />
<line x1="797.05" y1="810.31" x2="816.05" y2="810.31" stroke="#000" stroke-width="2.6" />
<line x1="1294.60" y1="810.31" x2="1275.60" y2="810.31" stroke="#000" stroke-width="2.6" />
<line x1="797.05" y1="715.75" x2="816.05" y2="715.75" stroke="#000" stroke-width="2.6" />
<line x1="1294.60" y1="715.75" x2="1275.60" y2="715.75" stroke="#000" stroke-width="2.6" />
<line x1="797.05" y1="952.14" x2="807.05" y2="952.14" stroke="#000" stroke-width="2.6" />
<line x1="1294.60" y1="952.14" x2="1284.60" y2="952.14" stroke="#000" stroke-width="2.6" />
<line x1="797.05" y1="857.58" x2="807.05" y2="857.58" stroke="#000" stroke-width="2.6" />
<line x1="1294.60" y1="857.58" x2="1284.60" y2="857.58" stroke="#000" stroke-width="2.6" />
<line x1="797.05" y1="763.03" x2="807.05" y2="763.03" stroke="#000" stroke-width="2.6" />
<line x1="1294.60" y1="763.03" x2="1284.60" y2="763.03" stroke="#000" stroke-width="2.6" />
<line x1="797.05" y1="668.48" x2="807.05" y2="668.48" stroke="#000" stroke-width="2.6" />
<line x1="1294.60" y1="668.48" x2="1284.60" y2="668.48" stroke="#000" stroke-width="2.6" />
<rect x="797.05" y="621.2" width="497.55" height="401.85" fill="none" stroke="#000" stroke-width="2.6"/>
<path d="M797.05,996.09 L798.71,996.24 L800.37,996.39 L802.03,996.53 L803.68,996.66 L805.34,996.78 L807.00,996.90 L808.66,997.02 L810.32,997.12 L811.98,997.23 L813.63,997.33 L815.29,997.42 L816.95,997.51 L818.61,997.60 L820.27,997.68 L821.93,997.76 L823.59,997.84 L825.24,997.91 L826.90,997.98 L828.56,998.04 L830.22,998.10 L831.88,998.16 L833.54,998.22 L835.20,998.27 L836.85,998.33 L838.51,998.38 L840.17,998.42 L841.83,998.47 L843.49,998.51 L845.15,998.55 L846.80,998.59 L848.46,998.63 L850.12,998.66 L851.78,998.70 L853.44,998.73 L855.10,998.76 L856.76,998.79 L858.41,998.82 L860.07,998.85 L861.73,998.87 L863.39,998.90 L865.05,998.92 L866.71,998.94 L868.37,998.96 L870.02,998.98 L871.68,999.00 L873.34,999.02 L875.00,999.04 L876.66,999.06 L878.32,999.07 L879.97,999.09 L881.63,999.10 L883.29,999.12 L884.95,999.13 L886.61,999.14 L888.27,999.16 L889.93,999.17 L891.58,999.18 L893.24,999.19 L894.90,999.20 L896.56,999.21 L898.22,999.22 L899.88,999.23 L901.54,999.24 L903.19,999.24 L904.85,999.25 L906.51,999.26 L908.17,999.27 L909.83,999.27 L911.49,999.28 L913.14,999.28 L914.80,999.29 L916.46,999.30 L918.12,999.30 L919.78,999.31 L921.44,999.31 L923.10,999.32 L924.75,999.32 L926.41,999.32 L928.07,999.33 L929.73,999.33 L931.39,999.34 L933.05,999.34 L934.71,999.34 L936.36,999.35 L938.02,999.35 L939.68,999.35 L941.34,999.35 L943.00,999.36 L944.66,999.36 L946.31,999.36 L947.97,999.36 L949.63,999.37 L951.29,999.37 L952.95,999.37 L954.61,999.37 L956.27,999.37 L957.92,999.38 L959.58,999.38 L961.24,999.38 L962.90,999.38 L964.56,999.38 L966.22,999.38 L967.88,999.38 L969.53,999.39 L971.19,999.39 L972.85,999.39 L974.51,999.39 L976.17,999.39 L977.83,999.39 L979.48,999.39 L981.14,999.39 L982.80,999.39 L984.46,999.39 L986.12,999.40 L987.78,999.40 L989.44,999.40 L991.09,999.40 L992.75,999.40 L994.41,999.40 L996.07,999.40 L997.73,999.40 L999.39,999.40 L1001.05,999.40 L1002.70,999.40 L1004.36,999.40 L1006.02,999.40 L1007.68,999.40 L1009.34,999.40 L1011.00,999.40 L1012.65,999.40 L1014.31,999.40 L1015.97,999.40 L1017.63,999.40 L1019.29,999.41 L1020.95,999.41 L1022.61,999.41 L1024.26,999.41 L1025.92,999.41 L1027.58,999.41 L1029.24,999.41 L1030.90,999.41 L1032.56,999.41 L1034.22,999.41 L1035.87,999.41 L1037.53,999.41 L1039.19,999.41 L1040.85,999.41 L1042.51,999.41 L1044.17,999.41 L1045.82,999.41 L1047.48,999.41 L1049.14,999.41 L1050.80,999.41 L1052.46,999.41 L1054.12,999.41 L1055.78,999.41 L1057.43,999.41 L1059.09,999.41 L1060.75,999.41 L1062.41,999.41 L1064.07,999.41 L1065.73,999.41 L1067.39,999.41 L1069.04,999.41 L1070.70,999.41 L1072.36,999.41 L1074.02,999.41 L1075.68,999.41 L1077.34,999.41 L1078.99,999.41 L1080.65,999.41 L1082.31,999.41 L1083.97,999.41 L1085.63,999.41 L1087.29,999.41 L1088.95,999.41 L1090.60,999.41 L1092.26,999.41 L1093.92,999.41 L1095.58,999.41 L1097.24,999.41 L1098.90,999.41 L1100.56,999.41 L1102.21,999.41 L1103.87,999.41 L1105.53,999.41 L1107.19,999.41 L1108.85,999.41 L1110.51,999.41 L1112.16,999.41 L1113.82,999.41 L1115.48,999.41 L1117.14,999.41 L1118.80,999.41 L1120.46,999.41 L1122.12,999.41 L1123.77,999.41 L1125.43,999.41 L1127.09,999.41 L1128.75,999.41 L1130.41,999.41 L1132.07,999.41 L1133.73,999.41 L1135.38,999.41 L1137.04,999.41 L1138.70,999.41 L1140.36,999.41 L1142.02,999.41 L1143.68,999.41 L1145.34,999.41 L1146.99,999.41 L1148.65,999.41 L1150.31,999.41 L1151.97,999.41 L1153.63,999.41 L1155.29,999.41 L1156.94,999.41 L1158.60,999.41 L1160.26,999.41 L1161.92,999.41 L1163.58,999.41 L1165.24,999.41 L1166.90,999.41 L1168.55,999.41 L1170.21,999.41 L1171.87,999.41 L1173.53,999.41 L1175.19,999.41 L1176.85,999.41 L1178.50,999.41 L1180.16,999.41 L1181.82,999.41 L1183.48,999.41 L1185.14,999.41 L1186.80,999.41 L1188.46,999.41 L1190.11,999.41 L1191.77,999.41 L1193.43,999.41 L1195.09,999.41 L1196.75,999.41 L1198.41,999.41 L1200.07,999.41 L1201.72,999.41 L1203.38,999.41 L1205.04,999.41 L1206.70,999.41 L1208.36,999.41 L1210.02,999.41 L1211.67,999.41 L1213.33,999.41 L1214.99,999.41 L1216.65,999.41 L1218.31,999.41 L1219.97,999.41 L1221.63,999.41 L1223.28,999.41 L1224.94,999.41 L1226.60,999.41 L1228.26,999.41 L1229.92,999.41 L1231.58,999.41 L1233.24,999.41 L1234.89,999.41 L1236.55,999.41 L1238.21,999.41 L1239.87,999.41 L1241.53,999.41 L1243.19,999.41 L1244.84,999.41 L1246.50,999.41 L1248.16,999.41 L1249.82,999.41 L1251.48,999.41 L1253.14,999.41 L1254.80,999.41 L1256.45,999.41 L1258.11,999.41 L1259.77,999.41 L1261.43,999.41 L1263.09,999.41 L1264.75,999.41 L1266.41,999.41 L1268.06,999.41 L1269.72,999.41 L1271.38,999.41 L1273.04,999.41 L1274.70,999.41 L1276.36,999.41 L1278.01,999.41 L1279.67,999.41 L1281.33,999.41 L1282.99,999.41 L1284.65,999.41 L1286.31,999.41 L1287.97,999.41 L1289.62,999.41 L1291.28,999.41 L1292.94,999.41 L1294.60,999.41" fill="none" stroke="#10c8cc" stroke-width="8.3" stroke-linecap="round" stroke-linejoin="round"/>
<path d="M797.05,664.93 L798.71,679.90 L800.37,694.20 L802.03,707.86 L803.68,720.91 L805.34,733.37 L807.00,745.28 L808.66,756.65 L810.32,767.52 L811.98,777.90 L813.63,787.81 L815.29,797.28 L816.95,806.33 L818.61,814.97 L820.27,823.22 L821.93,831.11 L823.59,838.64 L825.24,845.84 L826.90,852.71 L828.56,859.28 L830.22,865.55 L831.88,871.54 L833.54,877.26 L835.20,882.73 L836.85,887.95 L838.51,892.94 L840.17,897.70 L841.83,902.26 L843.49,906.60 L845.15,910.76 L846.80,914.73 L848.46,918.52 L850.12,922.14 L851.78,925.59 L853.44,928.90 L855.10,932.05 L856.76,935.07 L858.41,937.95 L860.07,940.70 L861.73,943.33 L863.39,945.84 L865.05,948.23 L866.71,950.53 L868.37,952.71 L870.02,954.80 L871.68,956.80 L873.34,958.71 L875.00,960.53 L876.66,962.27 L878.32,963.93 L879.97,965.52 L881.63,967.04 L883.29,968.48 L884.95,969.87 L886.61,971.19 L888.27,972.45 L889.93,973.66 L891.58,974.81 L893.24,975.91 L894.90,976.97 L896.56,977.97 L898.22,978.93 L899.88,979.85 L901.54,980.72 L903.19,981.56 L904.85,982.36 L906.51,983.12 L908.17,983.85 L909.83,984.55 L911.49,985.21 L913.14,985.85 L914.80,986.45 L916.46,987.03 L918.12,987.59 L919.78,988.12 L921.44,988.62 L923.10,989.11 L924.75,989.57 L926.41,990.01 L928.07,990.43 L929.73,990.83 L931.39,991.21 L933.05,991.58 L934.71,991.93 L936.36,992.27 L938.02,992.59 L939.68,992.89 L941.34,993.18 L943.00,993.46 L944.66,993.73 L946.31,993.98 L947.97,994.23 L949.63,994.46 L951.29,994.68 L952.95,994.89 L954.61,995.09 L956.27,995.29 L957.92,995.47 L959.58,995.65 L961.24,995.82 L962.90,995.98 L964.56,996.13 L966.22,996.28 L967.88,996.42 L969.53,996.55 L971.19,996.68 L972.85,996.80 L974.51,996.92 L976.17,997.03 L977.83,997.14 L979.48,997.24 L981.14,997.34 L982.80,997.43 L984.46,997.52 L986.12,997.60 L987.78,997.68 L989.44,997.76 L991.09,997.83 L992.75,997.91 L994.41,997.97 L996.07,998.04 L997.73,998.10 L999.39,998.16 L1001.05,998.21 L1002.70,998.27 L1004.36,998.32 L1006.02,998.37 L1007.68,998.41 L1009.34,998.46 L1011.00,998.50 L1012.65,998.54 L1014.31,998.58 L1015.97,998.62 L1017.63,998.65 L1019.29,998.69 L1020.95,998.72 L1022.61,998.75 L1024.26,998.78 L1025.92,998.81 L1027.58,998.84 L1029.24,998.86 L1030.90,998.89 L1032.56,998.91 L1034.22,998.93 L1035.87,998.95 L1037.53,998.97 L1039.19,998.99 L1040.85,999.01 L1042.51,999.03 L1044.17,999.05 L1045.82,999.06 L1047.48,999.08 L1049.14,999.09 L1050.80,999.11 L1052.46,999.12 L1054.12,999.13 L1055.78,999.15 L1057.43,999.16 L1059.09,999.17 L1060.75,999.18 L1062.41,999.19 L1064.07,999.20 L1065.73,999.21 L1067.39,999.22 L1069.04,999.23 L1070.70,999.24 L1072.36,999.24 L1074.02,999.25 L1075.68,999.26 L1077.34,999.27 L1078.99,999.27 L1080.65,999.28 L1082.31,999.28 L1083.97,999.29 L1085.63,999.30 L1087.29,999.30 L1088.95,999.31 L1090.60,999.31 L1092.26,999.32 L1093.92,999.32 L1095.58,999.32 L1097.24,999.33 L1098.90,999.33 L1100.56,999.33 L1102.21,999.34 L1103.87,999.34 L1105.53,999.34 L1107.19,999.35 L1108.85,999.35 L1110.51,999.35 L1112.16,999.36 L1113.82,999.36 L1115.48,999.36 L1117.14,999.36 L1118.80,999.37 L1120.46,999.37 L1122.12,999.37 L1123.77,999.37 L1125.43,999.37 L1127.09,999.37 L1128.75,999.38 L1130.41,999.38 L1132.07,999.38 L1133.73,999.38 L1135.38,999.38 L1137.04,999.38 L1138.70,999.38 L1140.36,999.39 L1142.02,999.39 L1143.68,999.39 L1145.34,999.39 L1146.99,999.39 L1148.65,999.39 L1150.31,999.39 L1151.97,999.39 L1153.63,999.39 L1155.29,999.39 L1156.94,999.40 L1158.60,999.40 L1160.26,999.40 L1161.92,999.40 L1163.58,999.40 L1165.24,999.40 L1166.90,999.40 L1168.55,999.40 L1170.21,999.40 L1171.87,999.40 L1173.53,999.40 L1175.19,999.40 L1176.85,999.40 L1178.50,999.40 L1180.16,999.40 L1181.82,999.40 L1183.48,999.40 L1185.14,999.40 L1186.80,999.40 L1188.46,999.40 L1190.11,999.41 L1191.77,999.41 L1193.43,999.41 L1195.09,999.41 L1196.75,999.41 L1198.41,999.41 L1200.07,999.41 L1201.72,999.41 L1203.38,999.41 L1205.04,999.41 L1206.70,999.41 L1208.36,999.41 L1210.02,999.41 L1211.67,999.41 L1213.33,999.41 L1214.99,999.41 L1216.65,999.41 L1218.31,999.41 L1219.97,999.41 L1221.63,999.41 L1223.28,999.41 L1224.94,999.41 L1226.60,999.41 L1228.26,999.41 L1229.92,999.41 L1231.58,999.41 L1233.24,999.41 L1234.89,999.41 L1236.55,999.41 L1238.21,999.41 L1239.87,999.41 L1241.53,999.41 L1243.19,999.41 L1244.84,999.41 L1246.50,999.41 L1248.16,999.41 L1249.82,999.41 L1251.48,999.41 L1253.14,999.41 L1254.80,999.41 L1256.45,999.41 L1258.11,999.41 L1259.77,999.41 L1261.43,999.41 L1263.09,999.41 L1264.75,999.41 L1266.41,999.41 L1268.06,999.41 L1269.72,999.41 L1271.38,999.41 L1273.04,999.41 L1274.70,999.41 L1276.36,999.41 L1278.01,999.41 L1279.67,999.41 L1281.33,999.41 L1282.99,999.41 L1284.65,999.41 L1286.31,999.41 L1287.97,999.41 L1289.62,999.41 L1291.28,999.41 L1292.94,999.41 L1294.60,999.41" fill="none" stroke="#ff0062" stroke-width="8.3" stroke-linecap="round" stroke-linejoin="round"/>
<rect x="1008.25" y="664.55" width="241.2" height="200.65" fill="#fff"/>
<line x1="1056.49" y1="865.20" x2="1056.49" y2="855.20" stroke="#000" stroke-width="2.6" />
<line x1="1056.49" y1="664.55" x2="1056.49" y2="674.55" stroke="#000" stroke-width="2.6" />
<line x1="1104.73" y1="865.20" x2="1104.73" y2="855.20" stroke="#000" stroke-width="2.6" />
<line x1="1104.73" y1="664.55" x2="1104.73" y2="674.55" stroke="#000" stroke-width="2.6" />
<line x1="1152.97" y1="865.20" x2="1152.97" y2="855.20" stroke="#000" stroke-width="2.6" />
<line x1="1152.97" y1="664.55" x2="1152.97" y2="674.55" stroke="#000" stroke-width="2.6" />
<line x1="1201.21" y1="865.20" x2="1201.21" y2="855.20" stroke="#000" stroke-width="2.6" />
<line x1="1201.21" y1="664.55" x2="1201.21" y2="674.55" stroke="#000" stroke-width="2.6" />
<line x1="1008.25" y1="831.76" x2="1027.25" y2="831.76" stroke="#000" stroke-width="2.6" />
<line x1="1249.45" y1="831.76" x2="1230.45" y2="831.76" stroke="#000" stroke-width="2.6" />
<line x1="1008.25" y1="748.15" x2="1027.25" y2="748.15" stroke="#000" stroke-width="2.6" />
<line x1="1249.45" y1="748.15" x2="1230.45" y2="748.15" stroke="#000" stroke-width="2.6" />
<line x1="1008.25" y1="848.48" x2="1018.25" y2="848.48" stroke="#000" stroke-width="2.6" />
<line x1="1249.45" y1="848.48" x2="1239.45" y2="848.48" stroke="#000" stroke-width="2.6" />
<line x1="1008.25" y1="815.04" x2="1018.25" y2="815.04" stroke="#000" stroke-width="2.6" />
<line x1="1249.45" y1="815.04" x2="1239.45" y2="815.04" stroke="#000" stroke-width="2.6" />
<line x1="1008.25" y1="798.32" x2="1018.25" y2="798.32" stroke="#000" stroke-width="2.6" />
<line x1="1249.45" y1="798.32" x2="1239.45" y2="798.32" stroke="#000" stroke-width="2.6" />
<line x1="1008.25" y1="781.60" x2="1018.25" y2="781.60" stroke="#000" stroke-width="2.6" />
<line x1="1249.45" y1="781.60" x2="1239.45" y2="781.60" stroke="#000" stroke-width="2.6" />
<line x1="1008.25" y1="764.88" x2="1018.25" y2="764.88" stroke="#000" stroke-width="2.6" />
<line x1="1249.45" y1="764.88" x2="1239.45" y2="764.88" stroke="#000" stroke-width="2.6" />
<line x1="1008.25" y1="731.43" x2="1018.25" y2="731.43" stroke="#000" stroke-width="2.6" />
<line x1="1249.45" y1="731.43" x2="1239.45" y2="731.43" stroke="#000" stroke-width="2.6" />
<line x1="1008.25" y1="714.71" x2="1018.25" y2="714.71" stroke="#000" stroke-width="2.6" />
<line x1="1249.45" y1="714.71" x2="1239.45" y2="714.71" stroke="#000" stroke-width="2.6" />
<line x1="1008.25" y1="697.99" x2="1018.25" y2="697.99" stroke="#000" stroke-width="2.6" />
<line x1="1249.45" y1="697.99" x2="1239.45" y2="697.99" stroke="#000" stroke-width="2.6" />
<line x1="1008.25" y1="681.27" x2="1018.25" y2="681.27" stroke="#000" stroke-width="2.6" />
<line x1="1249.45" y1="681.27" x2="1239.45" y2="681.27" stroke="#000" stroke-width="2.6" />
<rect x="1008.25" y="664.55" width="241.20" height="200.65" fill="none" stroke="#000" stroke-width="2.6"/>
<line x1="1008.25" y1="831.76" x2="1249.45" y2="831.76" stroke="#000" stroke-width="2.6" stroke-dasharray="13.2 6.8"/>
<path d="M1008.25,714.38 L1009.05,719.72 L1009.86,724.81 L1010.66,729.68 L1011.47,734.32 L1012.27,738.75 L1013.07,742.98 L1013.88,747.02 L1014.68,750.88 L1015.49,754.56 L1016.29,758.07 L1017.09,761.42 L1017.90,764.62 L1018.70,767.67 L1019.51,770.59 L1020.31,773.37 L1021.11,776.03 L1021.92,778.56 L1022.72,780.98 L1023.53,783.29 L1024.33,785.50 L1025.13,787.60 L1025.94,789.61 L1026.74,791.53 L1027.55,793.36 L1028.35,795.10 L1029.15,796.77 L1029.96,798.36 L1030.76,799.88 L1031.57,801.33 L1032.37,802.72 L1033.17,804.04 L1033.98,805.30 L1034.78,806.50 L1035.59,807.65 L1036.39,808.75 L1037.19,809.79 L1038.00,810.79 L1038.80,811.75 L1039.61,812.66 L1040.41,813.53 L1041.21,814.35 L1042.02,815.15 L1042.82,815.90 L1043.63,816.62 L1044.43,817.31 L1045.23,817.97 L1046.04,818.60 L1046.84,819.20 L1047.65,819.77 L1048.45,820.31 L1049.25,820.83 L1050.06,821.33 L1050.86,821.80 L1051.67,822.26 L1052.47,822.69 L1053.27,823.10 L1054.08,823.50 L1054.88,823.87 L1055.69,824.23 L1056.49,824.57 L1057.29,824.90 L1058.10,825.21 L1058.90,825.51 L1059.71,825.79 L1060.51,826.06 L1061.31,826.32 L1062.12,826.57 L1062.92,826.81 L1063.73,827.03 L1064.53,827.25 L1065.33,827.45 L1066.14,827.65 L1066.94,827.84 L1067.75,828.01 L1068.55,828.18 L1069.35,828.35 L1070.16,828.50 L1070.96,828.65 L1071.77,828.79 L1072.57,828.93 L1073.37,829.06 L1074.18,829.18 L1074.98,829.30 L1075.79,829.41 L1076.59,829.51 L1077.39,829.62 L1078.20,829.71 L1079.00,829.81 L1079.81,829.90 L1080.61,829.98 L1081.41,830.06 L1082.22,830.14 L1083.02,830.21 L1083.83,830.28 L1084.63,830.35 L1085.43,830.41 L1086.24,830.47 L1087.04,830.53 L1087.85,830.59 L1088.65,830.64 L1089.45,830.69 L1090.26,830.74 L1091.06,830.79 L1091.87,830.83 L1092.67,830.87 L1093.47,830.91 L1094.28,830.95 L1095.08,830.99 L1095.89,831.02 L1096.69,831.06 L1097.49,831.09 L1098.30,831.12 L1099.10,831.15 L1099.91,831.18 L1100.71,831.20 L1101.51,831.23 L1102.32,831.25 L1103.12,831.28 L1103.93,831.30 L1104.73,831.32 L1105.53,831.34 L1106.34,831.36 L1107.14,831.38 L1107.95,831.39 L1108.75,831.41 L1109.55,831.43 L1110.36,831.44 L1111.16,831.46 L1111.97,831.47 L1112.77,831.48 L1113.57,831.49 L1114.38,831.51 L1115.18,831.52 L1115.99,831.53 L1116.79,831.54 L1117.59,831.55 L1118.40,831.56 L1119.20,831.57 L1120.01,831.58 L1120.81,831.58 L1121.61,831.59 L1122.42,831.60 L1123.22,831.61 L1124.03,831.61 L1124.83,831.62 L1125.63,831.63 L1126.44,831.63 L1127.24,831.64 L1128.05,831.64 L1128.85,831.65 L1129.65,831.65 L1130.46,831.66 L1131.26,831.66 L1132.07,831.67 L1132.87,831.67 L1133.67,831.68 L1134.48,831.68 L1135.28,831.68 L1136.09,831.69 L1136.89,831.69 L1137.69,831.69 L1138.50,831.70 L1139.30,831.70 L1140.11,831.70 L1140.91,831.70 L1141.71,831.71 L1142.52,831.71 L1143.32,831.71 L1144.13,831.71 L1144.93,831.72 L1145.73,831.72 L1146.54,831.72 L1147.34,831.72 L1148.15,831.72 L1148.95,831.72 L1149.75,831.73 L1150.56,831.73 L1151.36,831.73 L1152.17,831.73 L1152.97,831.73 L1153.77,831.73 L1154.58,831.73 L1155.38,831.73 L1156.19,831.74 L1156.99,831.74 L1157.79,831.74 L1158.60,831.74 L1159.40,831.74 L1160.21,831.74 L1161.01,831.74 L1161.81,831.74 L1162.62,831.74 L1163.42,831.74 L1164.23,831.74 L1165.03,831.74 L1165.83,831.75 L1166.64,831.75 L1167.44,831.75 L1168.25,831.75 L1169.05,831.75 L1169.85,831.75 L1170.66,831.75 L1171.46,831.75 L1172.27,831.75 L1173.07,831.75 L1173.87,831.75 L1174.68,831.75 L1175.48,831.75 L1176.29,831.75 L1177.09,831.75 L1177.89,831.75 L1178.70,831.75 L1179.50,831.75 L1180.31,831.75 L1181.11,831.75 L1181.91,831.75 L1182.72,831.75 L1183.52,831.75 L1184.33,831.75 L1185.13,831.75 L1185.93,831.75 L1186.74,831.75 L1187.54,831.75 L1188.35,831.75 L1189.15,831.76 L1189.95,831.76 L1190.76,831.76 L1191.56,831.76 L1192.37,831.76 L1193.17,831.76 L1193.97,831.76 L1194.78,831.76 L1195.58,831.76 L1196.39,831.76 L1197.19,831.76 L1197.99,831.76 L1198.80,831.76 L1199.60,831.76 L1200.41,831.76 L1201.21,831.76 L1202.01,831.76 L1202.82,831.76 L1203.62,831.76 L1204.43,831.76 L1205.23,831.76 L1206.03,831.76 L1206.84,831.76 L1207.64,831.76 L1208.45,831.76 L1209.25,831.76 L1210.05,831.76 L1210.86,831.76 L1211.66,831.76 L1212.47,831.76 L1213.27,831.76 L1214.07,831.76 L1214.88,831.76 L1215.68,831.76 L1216.49,831.76 L1217.29,831.76 L1218.09,831.76 L1218.90,831.76 L1219.70,831.76 L1220.51,831.76 L1221.31,831.76 L1222.11,831.76 L1222.92,831.76 L1223.72,831.76 L1224.53,831.76 L1225.33,831.76 L1226.13,831.76 L1226.94,831.76 L1227.74,831.76 L1228.55,831.76 L1229.35,831.76 L1230.15,831.76 L1230.96,831.76 L1231.76,831.76 L1232.57,831.76 L1233.37,831.76 L1234.17,831.76 L1234.98,831.76 L1235.78,831.76 L1236.59,831.76 L1237.39,831.76 L1238.19,831.76 L1239.00,831.76 L1239.80,831.76 L1240.61,831.76 L1241.41,831.76 L1242.21,831.76 L1243.02,831.76 L1243.82,831.76 L1244.63,831.76 L1245.43,831.76 L1246.23,831.76 L1247.04,831.76 L1247.84,831.76 L1248.65,831.76 L1249.45,831.76" fill="none" stroke="#10c8cc" stroke-width="8.3" stroke-linecap="round" stroke-linejoin="round"/>
<text x="788.06" y="486.35" font-size="34.5" fill="#000">0</text>
<text x="101.91" y="1061.30" font-size="34.5" fill="#000">0</text>
<text x="912.54" y="486.35" font-size="34.5" fill="#000">5</text>
<text x="226.43" y="1061.30" font-size="34.5" fill="#000">5</text>
<text x="1026.72" y="486.35" font-size="34.5" fill="#000">10</text>
<text x="340.65" y="1061.30" font-size="34.5" fill="#000">10</text>
<text x="1151.22" y="486.35" font-size="34.5" fill="#000">15</text>
<text x="465.19" y="1061.30" font-size="34.5" fill="#000">15</text>
<text x="1276.07" y="486.35" font-size="34.5" fill="#000">20</text>
<text x="590.07" y="1061.30" font-size="34.5" fill="#000">20</text>
<text x="765.31" y="419.03" font-size="34.5" fill="#000">0</text>
<text x="79.36" y="998.86" font-size="34.5" fill="#000">0</text>
<text x="765.41" y="237.21" font-size="34.5" fill="#000">5</text>
<text x="79.46" y="816.98" font-size="34.5" fill="#000">5</text>
<text x="746.12" y="53.80" font-size="34.5" fill="#000">10</text>
<text x="60.17" y="633.50" font-size="34.5" fill="#000">10</text>
<text x="787.46" y="1060.80" font-size="34.5" fill="#000">0</text>
<text x="867.14" y="1060.80" font-size="34.5" fill="#000">100</text>
<text x="967.10" y="1060.80" font-size="34.5" fill="#000">200</text>
<text x="1066.82" y="1060.80" font-size="34.5" fill="#000">300</text>
<text x="1166.59" y="1060.80" font-size="34.5" fill="#000">400</text>
<text x="1265.80" y="1060.80" font-size="34.5" fill="#000">500</text>
<text x="764.76" y="1011.51" font-size="34.5" fill="#000">0</text>
<text x="745.57" y="916.96" font-size="34.5" fill="#000">20</text>
<text x="745.57" y="822.41" font-size="34.5" fill="#000">40</text>
<text x="745.57" y="727.85" font-size="34.5" fill="#000">60</text>
<text x="745.57" y="633.30" font-size="34.5" fill="#000">80</text>
<text x="947.89" y="843.11" font-size="34.5" fill="#000">0.0</text>
<text x="947.99" y="759.50" font-size="34.5" fill="#000">0.5</text>
<text x="947.89" y="675.90" font-size="34.5" fill="#000">1.0</text>
<text x="998.66" y="902.40" font-size="34.5" fill="#000">0</text>
<text x="1220.65" y="902.40" font-size="34.5" fill="#000">500</text>
<text x="1019.03" y="529.60" font-size="34.5" font-style="italic" fill="#000" >t</text>
<text x="1035.86" y="529.60" font-size="34.5" fill="#000" >(s)</text>
<text x="334.63" y="1112.30" font-size="34.5" font-style="italic" fill="#000" >t</text>
<text x="351.86" y="1112.30" font-size="34.5" fill="#000" >(s)</text>
<text x="1017.63" y="1111.60" font-size="34.5" font-style="italic" fill="#000" >t</text>
<text x="1034.86" y="1111.60" font-size="34.5" fill="#000" >(s)</text>
<text x="1101.33" y="908.90" font-size="34.5" font-style="italic" fill="#000" >t</text>
<text x="1118.56" y="908.90" font-size="34.5" fill="#000" >(s)</text>
<path fill="#000" fill-rule="evenodd" d="M692.75,345.60 L715.65,336.25 L715.65,356.15 Z M698.00,346.70 L713.75,340.27 L713.75,353.95 Z"/>
<path fill="#000" fill-rule="evenodd" d="M692.75,258.85 L715.65,249.50 L715.65,269.40 Z M698.00,259.95 L713.75,253.52 L713.75,267.20 Z"/>
<g transform="translate(715.50,0) rotate(-90)"><text x="-333.60" y="0.00" font-size="34.5" font-style="italic">T</text><text x="-315.16" y="8.35" font-size="25.5">S</text><text x="-289.05" y="0.00" font-size="34">,</text><text x="-247.10" y="0.00" font-size="34.5" font-style="italic">T</text><text x="-228.69" y="8.35" font-size="25.5">L</text><text x="-204.91" y="0.00" font-size="34">(mK)</text></g>
<path fill="#000" fill-rule="evenodd" d="M9.00,923.50 L31.90,914.15 L31.90,934.05 Z M14.25,924.60 L30.00,918.17 L30.00,931.85 Z"/>
<path fill="#000" fill-rule="evenodd" d="M9.00,836.75 L31.90,827.40 L31.90,847.30 Z M14.25,837.85 L30.00,831.42 L30.00,845.10 Z"/>
<g transform="translate(31.95,0) rotate(-90)"><text x="-911.50" y="0.00" font-size="34.5" font-style="italic">T</text><text x="-893.06" y="8.35" font-size="25.5">S</text><text x="-866.95" y="0.00" font-size="34">,</text><text x="-825.00" y="0.00" font-size="34.5" font-style="italic">T</text><text x="-806.59" y="8.35" font-size="25.5">L</text><text x="-782.81" y="0.00" font-size="34">(mK)</text></g>
<path fill="#000" fill-rule="evenodd" d="M692.60,923.50 L715.50,914.15 L715.50,934.05 Z M697.85,924.60 L713.60,918.17 L713.60,931.85 Z"/>
<path fill="#000" fill-rule="evenodd" d="M692.60,836.75 L715.50,827.40 L715.50,847.30 Z M697.85,837.85 L713.60,831.42 L713.60,845.10 Z"/>
<g transform="translate(715.40,0) rotate(-90)"><text x="-911.50" y="0.00" font-size="34.5" font-style="italic">T</text><text x="-893.06" y="8.35" font-size="25.5">S</text><text x="-866.95" y="0.00" font-size="34">,</text><text x="-825.00" y="0.00" font-size="34.5" font-style="italic">T</text><text x="-806.59" y="8.35" font-size="25.5">L</text><text x="-782.81" y="0.00" font-size="34">(mK)</text></g>
<path fill="#000" fill-rule="evenodd" d="M894.70,822.55 L917.60,813.20 L917.60,833.10 Z M899.95,823.65 L915.70,817.22 L915.70,830.90 Z"/>
<g transform="translate(917.60,0) rotate(-90)"><text x="-810.80" y="0.00" font-size="34.5" font-style="italic">T</text><text x="-792.39" y="8.35" font-size="25.5">L</text><text x="-768.61" y="0.00" font-size="34">(mK)</text></g>
</svg></body></html>
